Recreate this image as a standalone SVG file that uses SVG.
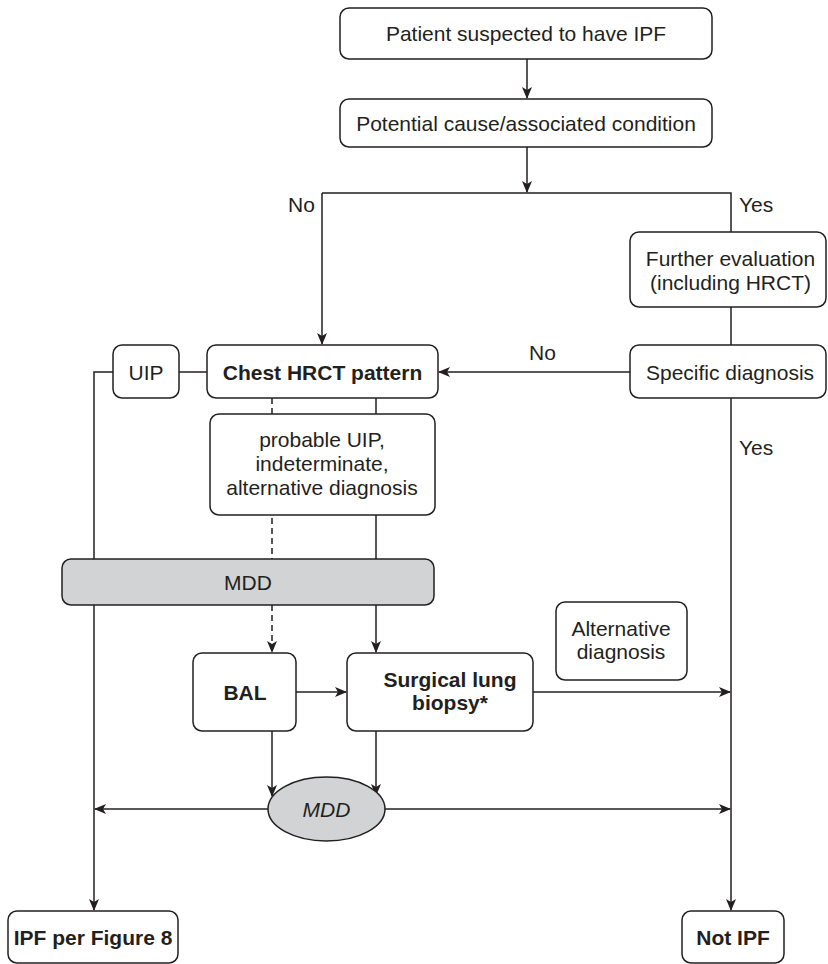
<svg xmlns="http://www.w3.org/2000/svg" width="828" height="964" viewBox="0 0 828 964">
<style>
.box{fill:#fff;stroke:#231f20;stroke-width:1.5}
.grey{fill:#d1d3d4;stroke:#231f20;stroke-width:1.5}
.t{font-family:"Liberation Sans",Arial,sans-serif;font-size:21px;fill:#231f20;text-anchor:middle}
.b{font-weight:bold}
.i{font-style:italic}
.l{font-family:"Liberation Sans",Arial,sans-serif;font-size:21px;fill:#231f20}
.c{fill:none;stroke:#231f20;stroke-width:1.5}
.d{stroke-dasharray:6 4}
</style>
<defs>
<marker id="ah" markerWidth="12" markerHeight="10" refX="11" refY="5" orient="auto" markerUnits="userSpaceOnUse">
<path d="M0,0 L12,5 L0,10 L3,5 z" fill="#231f20"/>
</marker>
</defs>
<g id="connectors">
<line class="c" x1="527" y1="59" x2="527" y2="98" marker-end="url(#ah)"/>
<line class="c" x1="527" y1="147" x2="527" y2="192" marker-end="url(#ah)"/>
<polyline class="c" points="322,193 731,193 731,232"/>
<line class="c" x1="322" y1="193" x2="322" y2="344" marker-end="url(#ah)"/>
<line class="c" x1="731" y1="307" x2="731" y2="345"/>
<line class="c" x1="630" y1="372" x2="439" y2="372" marker-end="url(#ah)"/>
<line class="c" x1="731" y1="398" x2="731" y2="910" marker-end="url(#ah)"/>
<line class="c" x1="179" y1="372" x2="207" y2="372"/>
<polyline class="c" points="113,372 94,372 94,910" marker-end="url(#ah)"/>
<line class="c d" x1="272" y1="398" x2="272" y2="559"/>
<line class="c d" x1="272" y1="605" x2="272" y2="652" marker-end="url(#ah)"/>
<line class="c" x1="376" y1="398" x2="376" y2="559"/>
<line class="c" x1="376" y1="605" x2="376" y2="652" marker-end="url(#ah)"/>
<line class="c" x1="296" y1="692" x2="346" y2="692" marker-end="url(#ah)"/>
<line class="c" x1="533" y1="692" x2="730" y2="692" marker-end="url(#ah)"/>
<line class="c" x1="272" y1="731" x2="272" y2="796" marker-end="url(#ah)"/>
<line class="c" x1="376" y1="731" x2="376" y2="795" marker-end="url(#ah)"/>
<line class="c" x1="268" y1="809" x2="95" y2="809" marker-end="url(#ah)"/>
<line class="c" x1="385" y1="809" x2="730" y2="809" marker-end="url(#ah)"/>
<text class="l" x="288" y="211.5">No</text>
<text class="l" x="739" y="211.5">Yes</text>
<text class="l" x="529" y="360">No</text>
<text class="l" x="739" y="454.5">Yes</text>
</g>
<g id="patient">
<rect class="box" x="340" y="8" width="372" height="51" rx="9"/>
<text class="t" x="526" y="41">Patient suspected to have IPF</text>
</g>
<g id="potential">
<rect class="box" x="340" y="99" width="372" height="48" rx="9"/>
<text class="t" x="526" y="130.5">Potential cause/associated condition</text>
</g>
<g id="further">
<rect class="box" x="630" y="232" width="196" height="75" rx="9"/>
<text class="t" x="730.5" y="265.5">Further evaluation</text>
<text class="t" x="730.5" y="289.5">(including HRCT)</text>
</g>
<g id="specific">
<rect class="box" x="630" y="345" width="196" height="53" rx="9"/>
<text class="t" x="730" y="379.5">Specific diagnosis</text>
</g>
<g id="uip">
<rect class="box" x="113" y="345" width="66" height="53" rx="9"/>
<text class="t" x="146" y="379.5">UIP</text>
</g>
<g id="hrct">
<rect class="box" x="207" y="345" width="231" height="53" rx="9"/>
<text class="t b" x="322.5" y="379.5">Chest HRCT pattern</text>
</g>
<g id="probable">
<rect class="box" x="210" y="414" width="225" height="101" rx="9"/>
<text class="t" x="322" y="447">probable UIP,</text>
<text class="t" x="322" y="471">indeterminate,</text>
<text class="t" x="322" y="495">alternative diagnosis</text>
</g>
<g id="mdd1">
<rect class="grey" x="62" y="559" width="372" height="46" rx="9"/>
<text class="t" x="248" y="589.5">MDD</text>
</g>
<g id="bal">
<rect class="box" x="193" y="653" width="103" height="78" rx="9"/>
<text class="t b" x="245" y="699.5">BAL</text>
</g>
<g id="slb">
<rect class="box" x="347" y="653" width="186" height="78" rx="9"/>
<text class="t b" x="450" y="687">Surgical lung</text>
<text class="t b" x="450" y="710">biopsy*</text>
</g>
<g id="altdx">
<rect class="box" x="556" y="602" width="131" height="78" rx="9"/>
<text class="t" x="621" y="636">Alternative</text>
<text class="t" x="621" y="659">diagnosis</text>
</g>
<g id="mdd2">
<ellipse class="grey" cx="326.5" cy="809" rx="58.5" ry="32"/>
<text class="t i" x="326.5" y="816.5">MDD</text>
</g>
<g id="ipf">
<rect class="box" x="8" y="911" width="170" height="52" rx="9"/>
<text class="t b" x="93" y="944.5">IPF per Figure 8</text>
</g>
<g id="notipf">
<rect class="box" x="682" y="911" width="102" height="52" rx="9"/>
<text class="t b" x="733" y="944.5">Not IPF</text>
</g>
</svg>
